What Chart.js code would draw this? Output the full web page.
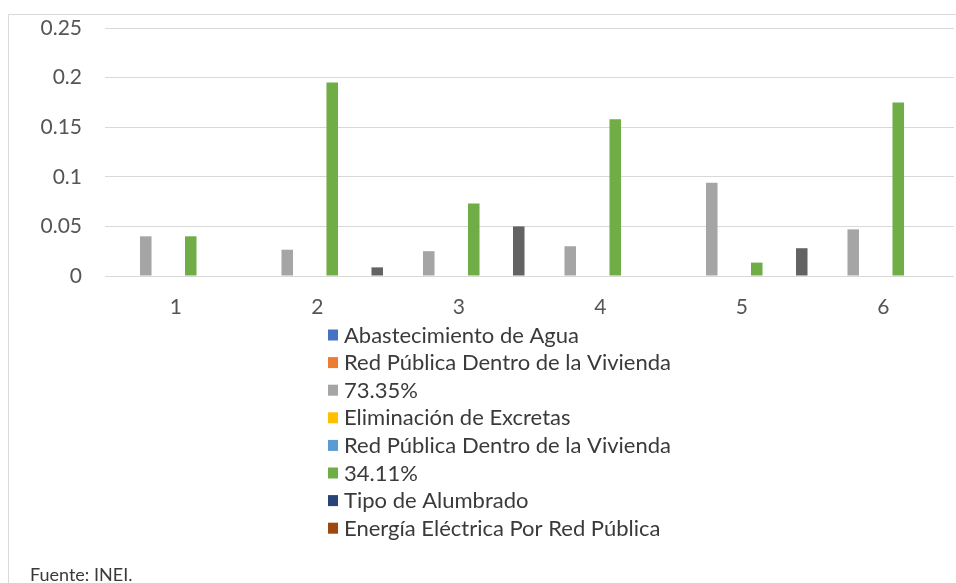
<!DOCTYPE html>
<html>
<head>
<meta charset="utf-8">
<script src="https://cdn.jsdelivr.net/npm/chart.js@4.4.0/dist/chart.umd.min.js"></script>
<style>
  html, body { margin: 0; padding: 0; background: #fff; }
  canvas { display: block; }
</style>
</head>
<body>
<canvas id="grafico" width="956" height="583"></canvas>
<script>
// Datos del gráfico
const categorias = ['1', '2', '3', '4', '5', '6'];
const etiquetasY = ['0', '0.05', '0.1', '0.15', '0.2', '0.25'];

const seriesNombres = [
    'Abastecimiento de Agua',
    'Red Pública Dentro de la Vivienda',
    '73.35%',
    'Eliminación de Excretas',
    'Red Pública Dentro de la Vivienda',
    '34.11%',
    'Tipo de Alumbrado',
    'Energía Eléctrica Por Red Pública',
    'Serie 9'
];
const seriesColores = ['#4472C4', '#ED7D31', '#A5A5A5', '#FFC000', '#5B9BD5', '#70AD47', '#264478', '#9E480E', '#636363'];

const abastecimientoAgua = [0, 0, 0, 0, 0, 0];
const redPublicaAgua = [0, 0, 0, 0, 0, 0];
const valores7335 = [0.04, 0.0265, 0.025, 0.030, 0.094, 0.047];
const eliminacionExcretas = [0, 0, 0, 0, 0, 0];
const redPublicaExcretas = [0, 0, 0, 0, 0, 0];
const valores3411 = [0.04, 0.195, 0.073, 0.158, 0.0135, 0.175];
const tipoAlumbrado = [0, 0, 0, 0, 0, 0];
const energiaElectrica = [0, 0, 0, 0, 0, 0];
const serie9 = [0, 0.0087, 0.05, 0, 0.028, 0];

const seriesValores = [abastecimientoAgua, redPublicaAgua, valores7335, eliminacionExcretas,
    redPublicaExcretas, valores3411, tipoAlumbrado, energiaElectrica, serie9];

const FUENTE = 'Lato, "Noto Sans", sans-serif';
const TAM_EJES = 21;
const TAM_LEYENDA = 22;

// Marco y fondo
const marcoPlugin = {
    id: 'marco',
    beforeDraw: (chart) => {
        const ctx = chart.ctx;
        ctx.save();
        ctx.fillStyle = '#ffffff';
        ctx.fillRect(0, 0, chart.width, chart.height);
        ctx.strokeStyle = '#d9d9d9';
        ctx.lineWidth = 1;
        ctx.beginPath();
        ctx.moveTo(8.5, chart.height);
        ctx.lineTo(8.5, 14.5);
        ctx.lineTo(chart.width, 14.5);
        ctx.stroke();
        ctx.restore();
    }
};

// Leyenda vertical (como en Excel) y nota de fuente
const leyendaPlugin = {
    id: 'leyendaVertical',
    afterDraw: (chart) => {
        const ctx = chart.ctx;
        ctx.save();
        ctx.font = TAM_LEYENDA + 'px ' + FUENTE;
        ctx.textBaseline = 'middle';
        ctx.textAlign = 'left';
        const x0 = 328;
        const y0 = 335.5;
        const paso = 27.6;
        chart.data.datasets.slice(0, 8).forEach((ds, i) => {
            const y = y0 + i * paso;
            ctx.fillStyle = ds.backgroundColor;
            ctx.fillRect(x0, y - 6, 10, 11);
            ctx.fillStyle = '#3a3a3a';
            ctx.fillText(ds.label, 344, y);
        });
        ctx.font = '18px ' + FUENTE;
        ctx.textBaseline = 'alphabetic';
        ctx.fillStyle = '#3a3a3a';
        ctx.fillText('Fuente: INEI.', 30, 581);
        ctx.restore();
    }
};

const ctx = document.getElementById('grafico').getContext('2d');

new Chart(ctx, {
    type: 'bar',
    data: {
        labels: categorias,
        datasets: seriesValores.map((vals, i) => ({
            label: seriesNombres[i],
            data: vals,
            backgroundColor: seriesColores[i],
            borderWidth: 0,
            categoryPercentage: 0.954,
            barPercentage: 0.77
        }))
    },
    options: {
        responsive: false,
        animation: false,
        layout: {
            padding: { left: 0, top: 28, right: 2, bottom: 257 }
        },
        plugins: {
            legend: { display: false },
            tooltip: { enabled: false }
        },
        scales: {
            x: {
                grid: { display: false, drawTicks: false },
                border: { display: false },
                ticks: {
                    color: '#555555',
                    font: { family: FUENTE, size: TAM_EJES },
                    padding: 19
                },
                afterFit: (s) => { s.height = 50; }
            },
            y: {
                min: 0,
                max: 0.25,
                grid: { color: '#d9d9d9', lineWidth: 1, drawTicks: false },
                border: { display: false },
                ticks: {
                    stepSize: 0.05,
                    color: '#555555',
                    font: { family: FUENTE, size: TAM_EJES },
                    padding: 23,
                    callback: (v, i) => etiquetasY[i]
                },
                afterFit: (s) => {
                    s.width = 105;
                    s.paddingTop = 0;
                    s.paddingBottom = 0;
                }
            }
        }
    },
    plugins: [marcoPlugin, leyendaPlugin]
});
</script>
</body>
</html>
